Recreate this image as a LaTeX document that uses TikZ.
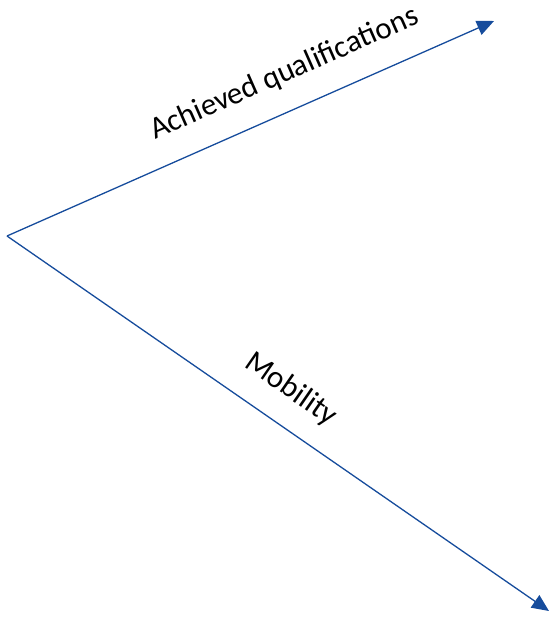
\documentclass[tikz,border=0pt]{standalone}
\usepackage{fontspec}
\setmainfont{Carlito}
\usetikzlibrary{arrows.meta}
\definecolor{axisblue}{RGB}{22,76,156}

\begin{document}
\begin{tikzpicture}[x=1pt, y=-1pt,
    axis/.style={-{Triangle[length=17pt, width=15pt]}, draw=axisblue, line width=1.3pt},
    lbl/.style={font=\fontsize{31}{36}\selectfont, sloped}]
  \useasboundingbox (0,0) rectangle (556,621);

  % Origin and arrow ends
  \coordinate (origin) at (7,236);
  \coordinate (qualend) at (494,21);
  \coordinate (mobend) at (549,611);

  % Axes
  \draw[axis] (origin) -- (qualend)
    node[lbl, pos=0.6, above=19pt] (qual) {Achieved qualifications};
  \draw[axis] (origin) -- (mobend)
    node[lbl, pos=0.487, above=18pt] (mob) {Mobility};

\end{tikzpicture}
\end{document}
